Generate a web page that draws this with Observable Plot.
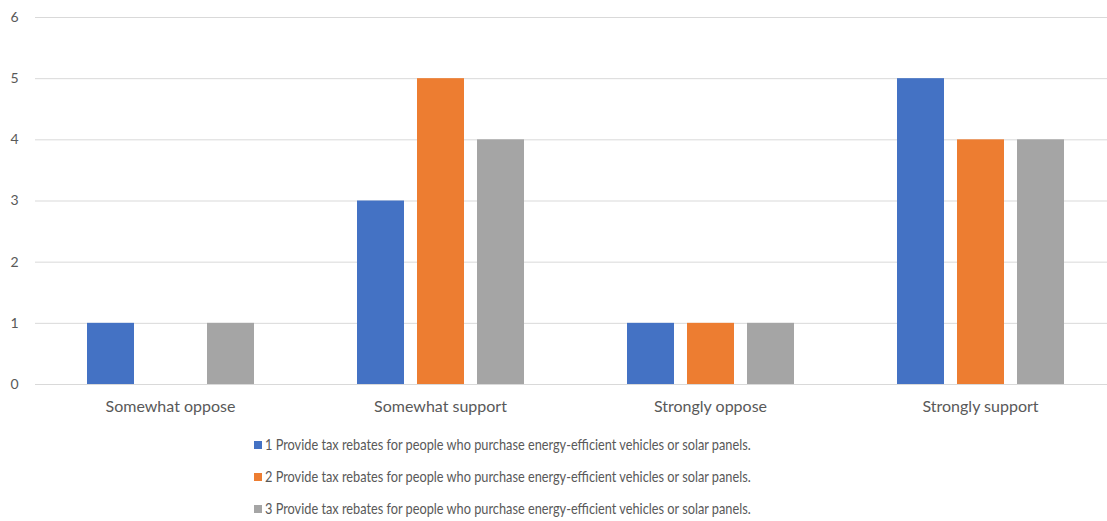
<!DOCTYPE html>
<html>
<head>
<meta charset="utf-8">
<script src="https://cdn.jsdelivr.net/npm/d3@7"></script>
<script src="https://cdn.jsdelivr.net/npm/@observablehq/plot@0.6"></script>
<style>
  html, body { margin: 0; padding: 0; background: #fff; overflow: hidden; }
  #wrap { position: relative; width: 1107px; height: 521px; overflow: hidden; }
  #chart { position: absolute; left: 0; top: 0; }
  #legend { position: absolute; left: 254px; top: 435px; font-family: Lato, sans-serif; font-size: 15px; color: #595959; }
  .row { height: 32px; display: flex; align-items: flex-start; white-space: nowrap; }
  .sw { display: inline-block; flex: none; width: 8px; height: 8px; margin-top: 6px; margin-right: 3px; }
  .lab { display: inline-block; transform: scaleX(0.85); transform-origin: 0 0; }
</style>
</head>
<body>
<div id="wrap">
  <div id="chart"></div>
  <div id="legend"></div>
</div>
<script>
// Response categories along the horizontal axis
const categories = ["Somewhat oppose", "Somewhat support", "Strongly oppose", "Strongly support"];

// Series names (one per statement)
const seriesNames = [
  "1 Provide tax rebates for people who purchase energy-efficient vehicles or solar panels.",
  "2 Provide tax rebates for people who purchase energy-efficient vehicles or solar panels.",
  "3 Provide tax rebates for people who purchase energy-efficient vehicles or solar panels."
];

// Counts per category, one array per series
const series1 = [1, 3, 1, 5];
const series2 = [0, 5, 1, 4];
const series3 = [1, 4, 1, 4];

// Y axis tick values
const yTicks = [0, 1, 2, 3, 4, 5, 6];

const colors = ["#4472C4", "#ED7D31", "#A5A5A5"];

const rows = [];
[series1, series2, series3].forEach((vals, s) => {
  vals.forEach((v, i) => rows.push({category: categories[i], series: seriesNames[s], value: v}));
});

const chart = Plot.plot({
  width: 1115,
  height: 424,
  marginLeft: 35,
  marginRight: 0,
  marginTop: 17,
  marginBottom: 40,
  style: {fontFamily: "Lato, sans-serif", fontSize: "14px", color: "#595959", background: "#fff", maxWidth: "none"},
  fx: {domain: categories, padding: 0, label: null, tickSize: 0, tickPadding: 16, axis: "bottom"},
  x: {domain: seriesNames, axis: null, paddingInner: 0.217, paddingOuter: 0.858},
  y: {domain: [0, 6], ticks: yTicks, tickSize: 0, tickPadding: 17, label: null, tickFormat: d3.format("d")},
  color: {domain: seriesNames, range: colors},
  marks: [
    Plot.ruleY(yTicks, {stroke: "#D9D9D9", strokeWidth: 1}),
    Plot.barY(rows, {fx: "category", x: "series", y: "value", fill: "series"})
  ]
});
// Category labels are set a little larger than the value ticks
d3.select(chart).selectAll('[aria-label^="fx-axis"]').style("font-size", "16px");
document.getElementById("chart").appendChild(chart);

// Legend: one row per series
const legend = d3.select("#legend");
seriesNames.forEach((name, i) => {
  const row = legend.append("div").attr("class", "row");
  row.append("span").attr("class", "sw").style("background", colors[i]);
  row.append("span").attr("class", "lab").text(name);
});
</script>
</body>
</html>
